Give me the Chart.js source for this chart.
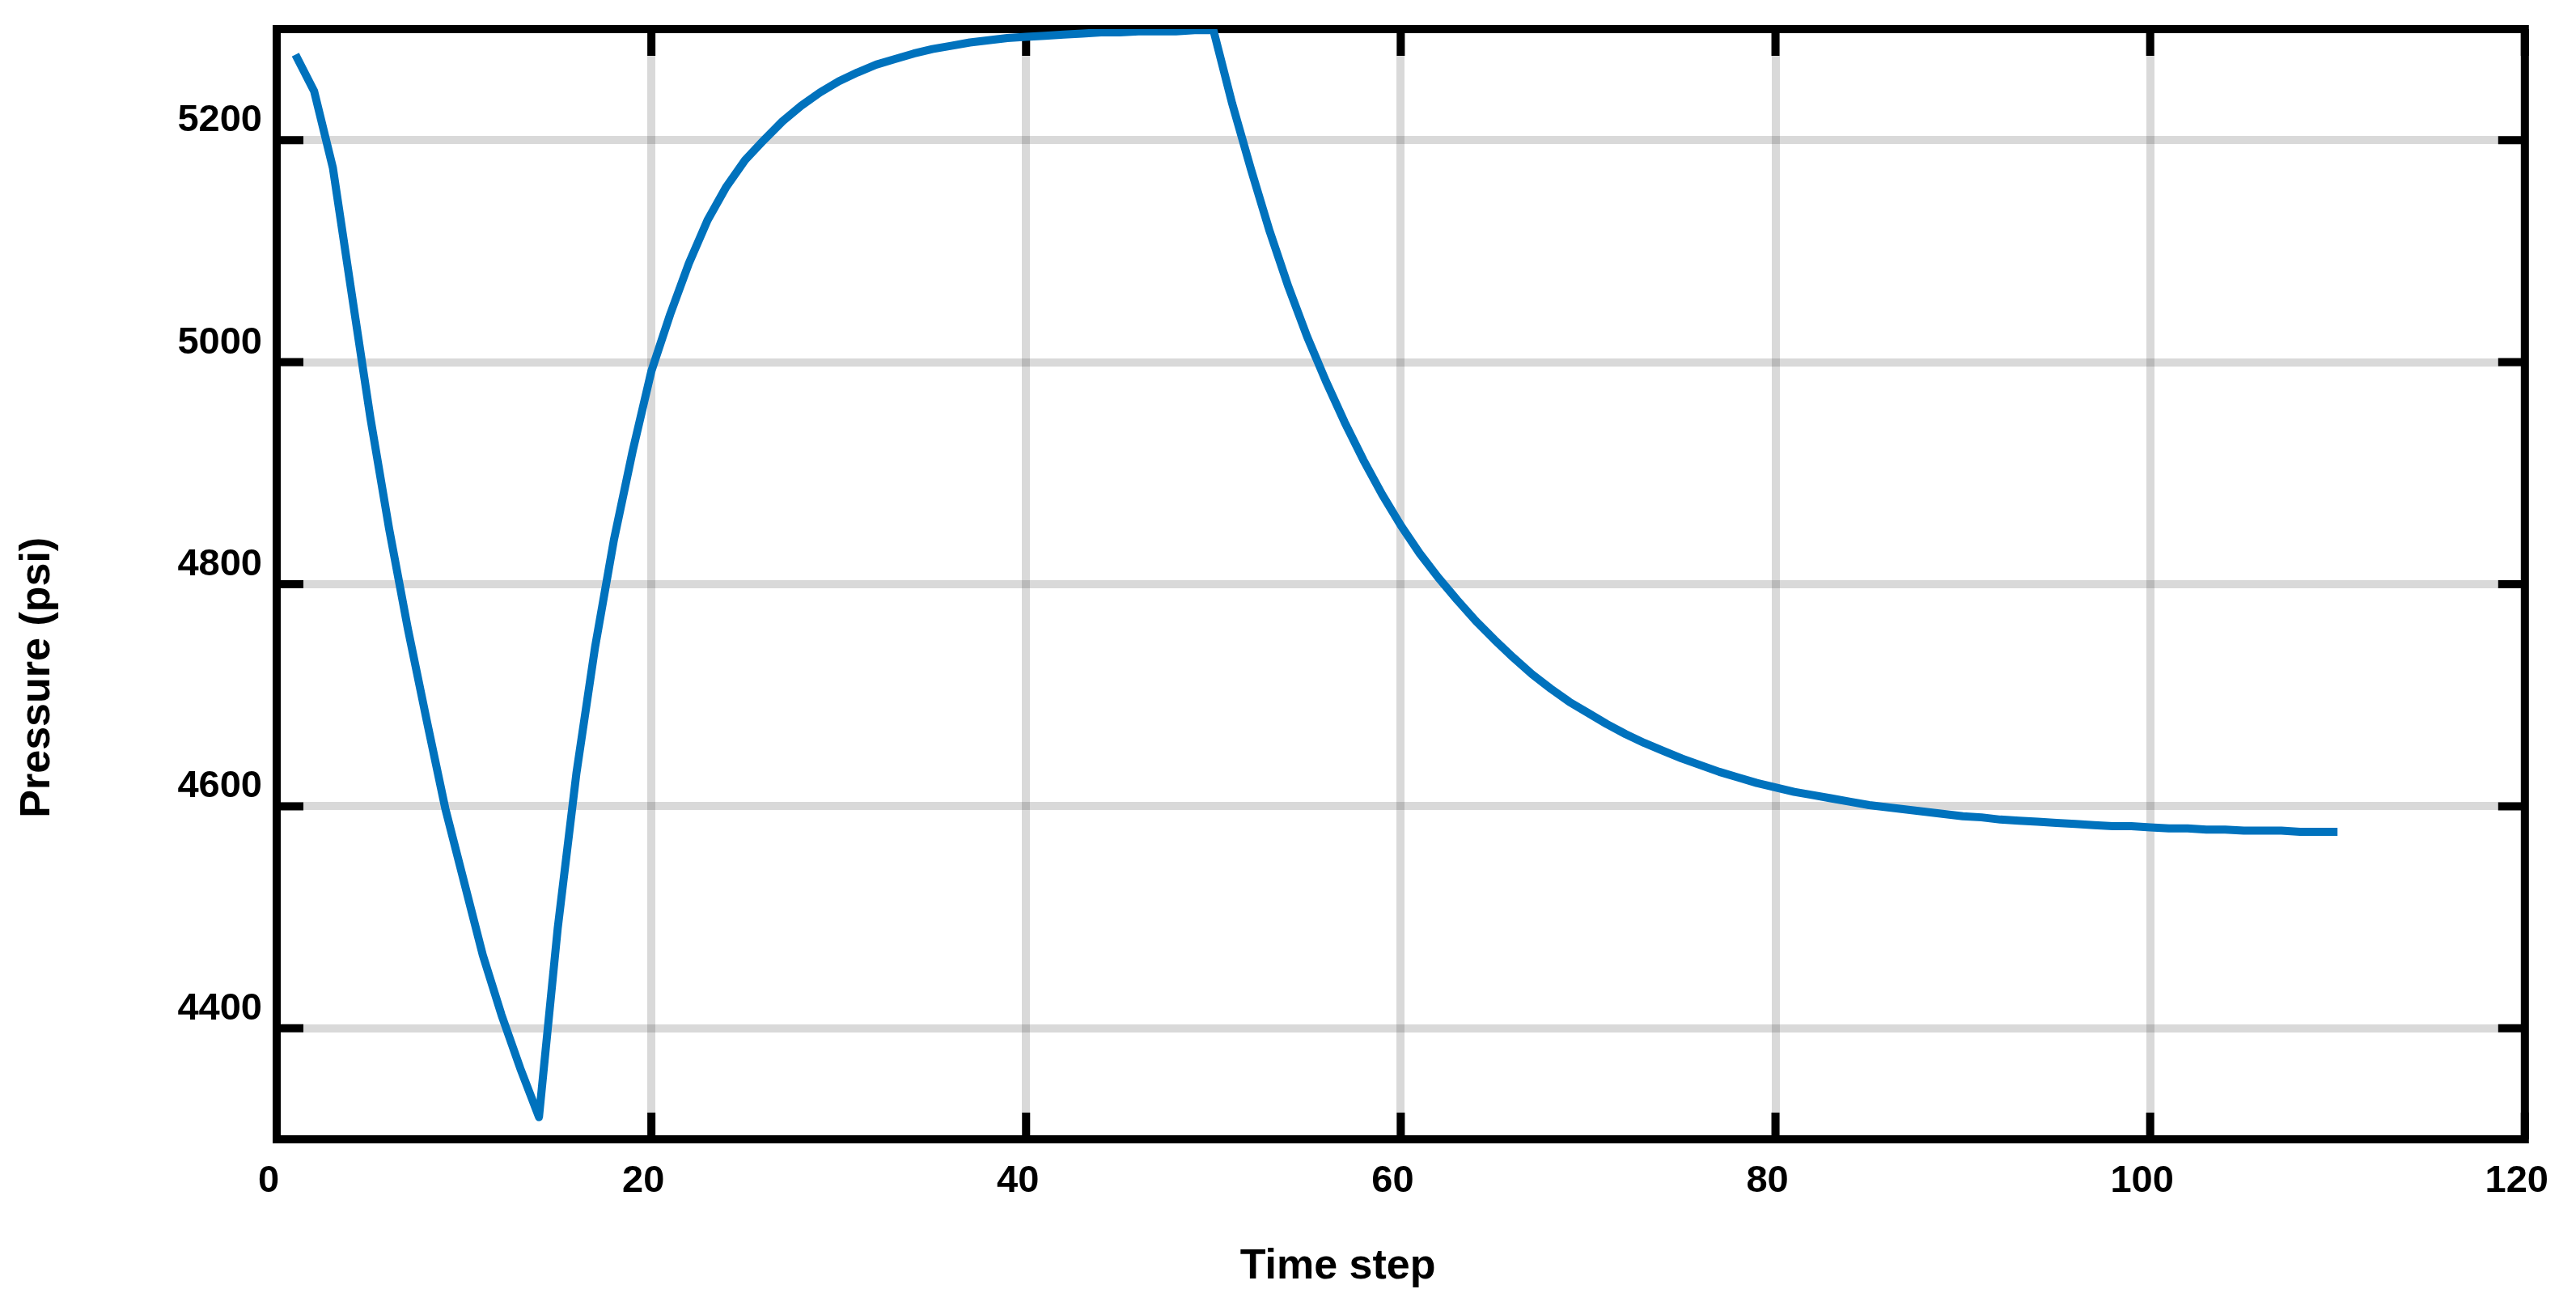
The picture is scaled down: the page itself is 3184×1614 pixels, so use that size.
<!DOCTYPE html>
<html>
<head>
<meta charset="utf-8">
<title>Pressure vs time step</title>
<script src="https://cdn.jsdelivr.net/npm/chart.js@4.4.1/dist/chart.umd.min.js"></script>
<style>
  html, body { margin: 0; padding: 0; background: #fff; }
  canvas { display: block; }
</style>
</head>
<body>
<canvas id="pressureChart" width="3184" height="1614"></canvas>
<script>
// values (psi), one per time step starting at 1
const pressure = [
  5277, 5244, 5175, 5062, 4950, 4850, 4760, 4678, 4598, 4532,
  4466, 4412, 4364, 4320, 4490, 4630, 4744, 4840, 4920, 4992,
  5043, 5089, 5128, 5158, 5182, 5200, 5217, 5231, 5243, 5253,
  5261, 5268, 5273, 5278, 5282, 5285, 5288, 5290, 5292, 5293,
  5294, 5295, 5296, 5297, 5297, 5298, 5298, 5298, 5299, 5299,
  5233, 5174, 5118, 5068, 5023, 4983, 4946, 4912, 4881, 4853,
  4828, 4806, 4786, 4767, 4750, 4734, 4719, 4706, 4694, 4684,
  4674, 4665, 4657, 4650, 4643, 4637, 4631, 4626, 4621, 4617,
  4613, 4610, 4607, 4604, 4601, 4599, 4597, 4595, 4593, 4591,
  4590, 4588, 4587, 4586, 4585, 4584, 4583, 4582, 4582, 4581,
  4580, 4580, 4579, 4579, 4578, 4578, 4578, 4577, 4577, 4577
];
const timeSteps = pressure.map((_, i) => i + 1);

const xTicks = [0, 20, 40, 60, 80, 100, 120];
const yTicks = [4400, 4600, 4800, 5000, 5200];

const xTitle = 'Time step';
const yTitle = 'Pressure (psi)';

const FONT = "'Liberation Sans', Arial, Helvetica, sans-serif";
const TICK_LEN = 33;

// matlab-like box with inward ticks on all four sides, plus offset axis titles
const boxTicks = {
  id: 'boxTicks',
  beforeDatasetsDraw(chart) {
    const { ctx, chartArea: a, scales: { x, y } } = chart;
    ctx.save();
    ctx.strokeStyle = '#000';
    ctx.lineWidth = 10;
    ctx.lineCap = 'butt';
    ctx.beginPath();
    x.ticks.forEach(t => {
      const px = x.getPixelForValue(t.value);
      ctx.moveTo(px, a.bottom);
      ctx.lineTo(px, a.bottom - TICK_LEN);
      ctx.moveTo(px, a.top);
      ctx.lineTo(px, a.top + TICK_LEN);
    });
    y.ticks.forEach(t => {
      const py = y.getPixelForValue(t.value);
      ctx.moveTo(a.left, py);
      ctx.lineTo(a.left + TICK_LEN, py);
      ctx.moveTo(a.right, py);
      ctx.lineTo(a.right - TICK_LEN, py);
    });
    ctx.stroke();
    ctx.strokeRect(a.left, a.top, a.right - a.left, a.bottom - a.top);
    ctx.restore();
  },
  afterDraw(chart) {
    const { ctx, chartArea: a } = chart;
    ctx.save();
    ctx.fillStyle = '#000';
    ctx.font = `bold 52px ${FONT}`;
    ctx.textAlign = 'center';
    ctx.textBaseline = 'middle';
    ctx.fillText(xTitle, a.left + (a.right - a.left) * 0.472, a.bottom + 158);
    ctx.translate(47, a.top + (a.bottom - a.top) * 0.584);
    ctx.rotate(-Math.PI / 2);
    ctx.fillText(yTitle, 0, 0);
    ctx.restore();
  }
};

const ctx = document.getElementById('pressureChart').getContext('2d');

new Chart(ctx, {
  type: 'line',
  data: {
    datasets: [{
      label: 'Pressure',
      data: timeSteps.map((t, i) => ({ x: t, y: pressure[i] })),
      borderColor: 'rgb(0, 114, 189)',
      borderWidth: 10,
      borderJoinStyle: 'round',
      borderCapStyle: 'butt',
      pointRadius: 0,
      tension: 0,
      fill: false,
    }]
  },
  options: {
    responsive: false,
    animation: false,
    devicePixelRatio: 1,
    layout: {
      padding: { top: 36, right: 44, left: 0, bottom: 0 }
    },
    plugins: {
      legend: { display: false },
      tooltip: { enabled: false },
    },
    scales: {
      x: {
        type: 'linear',
        min: 0,
        max: 120,
        afterFit: scale => {
          scale.height = 206;
        },
        afterBuildTicks: scale => { scale.ticks = xTicks.map(v => ({ value: v })); },
        grid: { color: 'rgba(0, 0, 0, 0.15)', lineWidth: 10, drawTicks: false },
        border: { display: false },
        ticks: {
          padding: 24,
          labelOffset: -10,
          maxRotation: 0,
          autoSkip: false,
          color: '#000',
          font: { family: FONT, size: 47, weight: 'bold' },
          callback: v => String(v),
        }
      },
      y: {
        min: 4300,
        max: 5300,
        afterFit: scale => {
          // fixed axis width; drop the label padding chart.js adds above/below
          scale.width = 342;
          scale.paddingTop = 0;
          scale.paddingBottom = 0;
        },
        afterBuildTicks: scale => { scale.ticks = yTicks.map(v => ({ value: v })); },
        grid: { color: 'rgba(0, 0, 0, 0.15)', lineWidth: 10, drawTicks: false },
        border: { display: false },
        ticks: {
          padding: 18,
          labelOffset: -24,
          autoSkip: false,
          color: '#000',
          font: { family: FONT, size: 47, weight: 'bold' },
          callback: v => String(v),
        }
      }
    }
  },
  plugins: [boxTicks]
});
</script>
</body>
</html>
